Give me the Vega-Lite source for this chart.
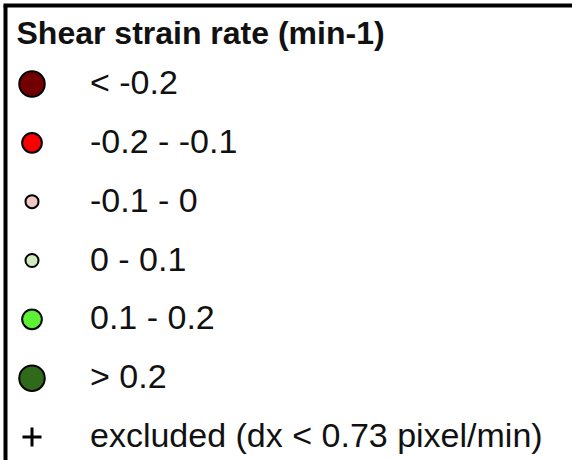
{
  "$schema": "https://vega.github.io/schema/vega-lite/v6.json",
  "width": 575,
  "height": 455,
  "autosize": {"type": "none"},
  "padding": {"left": 5, "top": 5, "right": -8, "bottom": 0},
  "background": "white",
  "config": {"view": {"stroke": null}},
  "data": {
    "values": [
      {"rang": 1, "klasse": "< -0.2"},
      {"rang": 2, "klasse": "-0.2 - -0.1"},
      {"rang": 3, "klasse": "-0.1 - 0"},
      {"rang": 4, "klasse": "0 - 0.1"},
      {"rang": 5, "klasse": "0.1 - 0.2"},
      {"rang": 6, "klasse": "> 0.2"},
      {"rang": 7, "klasse": "excluded (dx < 0.73 pixel/min)"}
    ]
  },
  "layer": [
    {
      "transform": [{"filter": "datum.rang <= 6"}],
      "mark": {"type": "point", "shape": "circle", "filled": true, "opacity": 1, "stroke": "#000000", "strokeWidth": 2},
      "encoding": {
        "x": {
          "datum": 27,
          "type": "quantitative",
          "scale": {"domain": [0, 575], "nice": false, "zero": false},
          "axis": {
            "orient": "top", "domain": true, "domainColor": "#000000", "domainWidth": 4, "domainCap": "square",
            "ticks": false, "labels": false, "values": [0],
            "grid": true, "gridColor": "#000000", "gridWidth": 4, "gridOpacity": 1,
            "title": "Shear strain rate (min-1)",
            "titleX": 11, "titleY": 38, "titleAlign": "left", "titleBaseline": "alphabetic",
            "titleFont": "Liberation Sans", "titleFontSize": 32, "titleFontWeight": "bold", "titleColor": "#111111"
          }
        },
        "y": {
          "field": "rang",
          "type": "quantitative",
          "scale": {"domain": [-0.343, 7.391], "reverse": true, "nice": false, "zero": false},
          "axis": null
        },
        "color": {
          "field": "klasse",
          "type": "ordinal",
          "scale": {
            "type": "ordinal",
            "domain": ["< -0.2", "-0.2 - -0.1", "-0.1 - 0", "0 - 0.1", "0.1 - 0.2", "> 0.2"],
            "range": ["#720000", "#fa0000", "#f3c6c6", "#d0ecbf", "#5cf234", "#2e6a19"]
          },
          "legend": null
        },
        "size": {
          "field": "klasse",
          "type": "ordinal",
          "scale": {
            "type": "ordinal",
            "domain": ["< -0.2", "-0.2 - -0.1", "-0.1 - 0", "0 - 0.1", "0.1 - 0.2", "> 0.2"],
            "range": [650, 390, 170, 170, 390, 650]
          },
          "legend": null
        }
      }
    },
    {
      "transform": [{"filter": "datum.rang === 7"}],
      "mark": {"type": "point", "shape": "M-1,0H1M0,-1V1", "filled": false, "opacity": 1, "stroke": "#000000", "strokeWidth": 3, "size": 361},
      "encoding": {
        "x": {
          "datum": 27,
          "type": "quantitative",
          "axis": {
            "orient": "top", "domain": true, "domainColor": "#000000", "domainWidth": 4, "domainCap": "square",
            "ticks": false, "labels": false, "values": [0],
            "grid": true, "gridColor": "#000000", "gridWidth": 4, "gridOpacity": 1,
            "title": "Shear strain rate (min-1)",
            "titleX": 11, "titleY": 38, "titleAlign": "left", "titleBaseline": "alphabetic",
            "titleFont": "Liberation Sans", "titleFontSize": 32, "titleFontWeight": "bold", "titleColor": "#111111"
          }
        },
        "y": {"field": "rang", "type": "quantitative", "axis": null}
      }
    },
    {
      "mark": {"type": "text", "align": "left", "baseline": "middle", "font": "Liberation Sans", "fontSize": 34, "color": "#111111"},
      "encoding": {
        "x": {
          "datum": 85,
          "type": "quantitative",
          "axis": {
            "orient": "top", "domain": true, "domainColor": "#000000", "domainWidth": 4, "domainCap": "square",
            "ticks": false, "labels": false, "values": [0],
            "grid": true, "gridColor": "#000000", "gridWidth": 4, "gridOpacity": 1,
            "title": "Shear strain rate (min-1)",
            "titleX": 11, "titleY": 38, "titleAlign": "left", "titleBaseline": "alphabetic",
            "titleFont": "Liberation Sans", "titleFontSize": 32, "titleFontWeight": "bold", "titleColor": "#111111"
          }
        },
        "y": {"field": "rang", "type": "quantitative", "axis": null},
        "text": {"field": "klasse"}
      }
    }
  ]
}
